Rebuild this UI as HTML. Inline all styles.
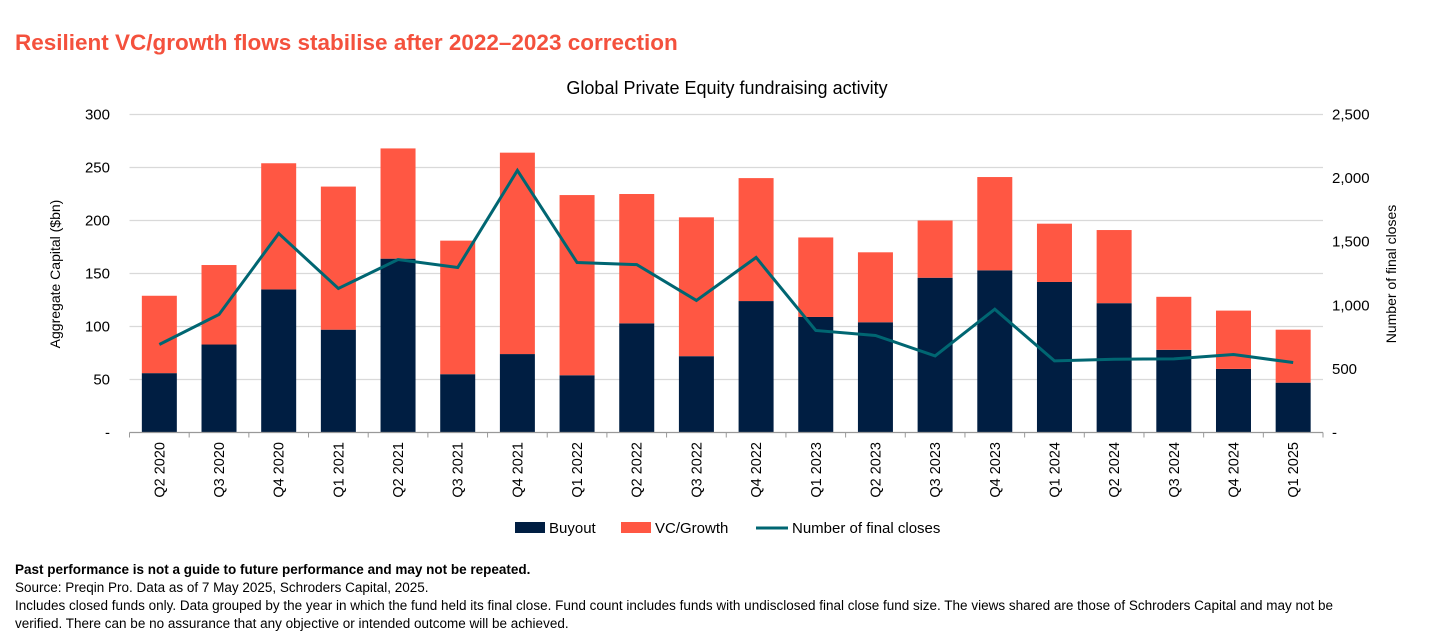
<!DOCTYPE html>
<html><head><meta charset="utf-8"><style>
body{margin:0;width:1456px;height:641px;background:#fff;font-family:"Liberation Sans",sans-serif;overflow:hidden;position:relative}
#t{position:absolute;left:15px;top:30px;font-size:22.5px;font-weight:bold;color:#F4513D}
#fn{position:absolute;left:15px;top:561px;font-size:13.5px;line-height:18px;color:#000;width:1440px;white-space:nowrap}
</style></head><body>
<div id="t">Resilient VC/growth flows stabilise after 2022–2023 correction</div>
<svg id="c" width="1456" height="560" style="position:absolute;left:0;top:0"></svg>
<div id="fn"><b>Past performance is not a guide to future performance and may not be repeated.</b><br>Source: Preqin Pro. Data as of 7 May 2025, Schroders Capital, 2025.<br>Includes closed funds only. Data grouped by the year in which the fund held its final close. Fund count includes funds with undisclosed final close fund size. The views shared are those of Schroders Capital and may not be<br>verified. There can be no assurance that any objective or intended outcome will be achieved.</div>
<script>
const categories=["Q2 2020","Q3 2020","Q4 2020","Q1 2021","Q2 2021","Q3 2021","Q4 2021","Q1 2022","Q2 2022","Q3 2022","Q4 2022","Q1 2023","Q2 2023","Q3 2023","Q4 2023","Q1 2024","Q2 2024","Q3 2024","Q4 2024","Q1 2025"];
const buyout=[56,83,135,97,164,55,74,54,103,72,124,109,104,146,153,142,122,78,60,47];
const vcGrowth=[73,75,119,135,104,126,190,170,122,131,116,75,66,54,88,55,69,50,55,50];
const finalCloses=[692,928,1565,1132,1360,1297,2060,1336,1320,1038,1376,802,763,602,969,563,576,579,613,550];
const leftTicks=[0,50,100,150,200,250,300];
const rightTicks=[0,500,1000,1500,2000,2500];
const NS="http://www.w3.org/2000/svg",svg=document.getElementById('c');
const X0=129.5,X1=1323,Y0=432.5,Y1=114.5,step=(X1-X0)/categories.length,bw=35;
const yL=v=>Y0-(v/300)*(Y0-Y1), yR=v=>Y0-(v/2500)*(Y0-Y1), xC=i=>X0+step*(i+0.5);
function el(t,a,p){const e=document.createElementNS(NS,t);for(const k in a)e.setAttribute(k,a[k]);(p||svg).appendChild(e);return e;}
function fmt(v){return v===0?'-':v.toLocaleString('en-US');}
leftTicks.forEach(v=>{
 if(v>0){const g=el('line',{x1:X0,x2:X1,y1:yL(v),y2:yL(v),stroke:'#d9d9d9','stroke-width':1.2});
 
 }
 const t=el('text',{x:110,y:yL(v)+5,'text-anchor':'end','font-size':15,fill:'#000'});t.textContent=fmt(v);
 
 
});
rightTicks.forEach(v=>{
 const t=el('text',{x:1332,y:yR(v)+5,'font-size':15,fill:'#000'});t.textContent=fmt(v);
 
 
});
categories.forEach((c,i)=>{
 const x=xC(i);
 const b=el('rect',{x:x-bw/2,y:yL(buyout[i]),width:bw,height:Y0-yL(buyout[i]),fill:'#001E42'});
 
 
 const tot=buyout[i]+vcGrowth[i];
 const v=el('rect',{x:x-bw/2,y:yL(tot),width:bw,height:yL(buyout[i])-yL(tot),fill:'#FF5743'});
 
 
 const t=el('text',{transform:`translate(${x+5},442) rotate(-90)`,'text-anchor':'end','font-size':14.5,fill:'#000'});t.textContent=c;
 
 
});
for(let i=0;i<=categories.length;i++){const tk=el('line',{x1:X0+step*i,x2:X0+step*i,y1:Y0,y2:Y0+5,stroke:'#999'});
 
 }
const ax=el('line',{x1:X0,x2:X1,y1:Y0,y2:Y0,stroke:'#999','stroke-width':1.2});


const ln=el('polyline',{points:finalCloses.map((v,i)=>xC(i)+','+yR(v)).join(' '),fill:'none',stroke:'#006672','stroke-width':3});


const ct=el('text',{x:727,y:94,'text-anchor':'middle','font-size':18,fill:'#000'});ct.textContent='Global Private Equity fundraising activity';


const yt=el('text',{transform:'translate(60,274) rotate(-90)','text-anchor':'middle','font-size':14,fill:'#000'});yt.textContent='Aggregate Capital ($bn)';


const yt2=el('text',{transform:'translate(1396,274) rotate(-90)','text-anchor':'middle','font-size':14,fill:'#000'});yt2.textContent='Number of final closes';


const l1=el('rect',{x:515,y:522,width:30,height:11,fill:'#001E42'});


const lt1=el('text',{x:549,y:533,'font-size':15});lt1.textContent='Buyout';


const l2=el('rect',{x:621,y:522,width:30,height:11,fill:'#FF5743'});


const lt2=el('text',{x:655,y:533,'font-size':15});lt2.textContent='VC/Growth';


const l3=el('line',{x1:756,x2:788,y1:528,y2:528,stroke:'#006672','stroke-width':3});


const lt3=el('text',{x:792,y:533,'font-size':15});lt3.textContent='Number of final closes';


</script>
</body></html>
